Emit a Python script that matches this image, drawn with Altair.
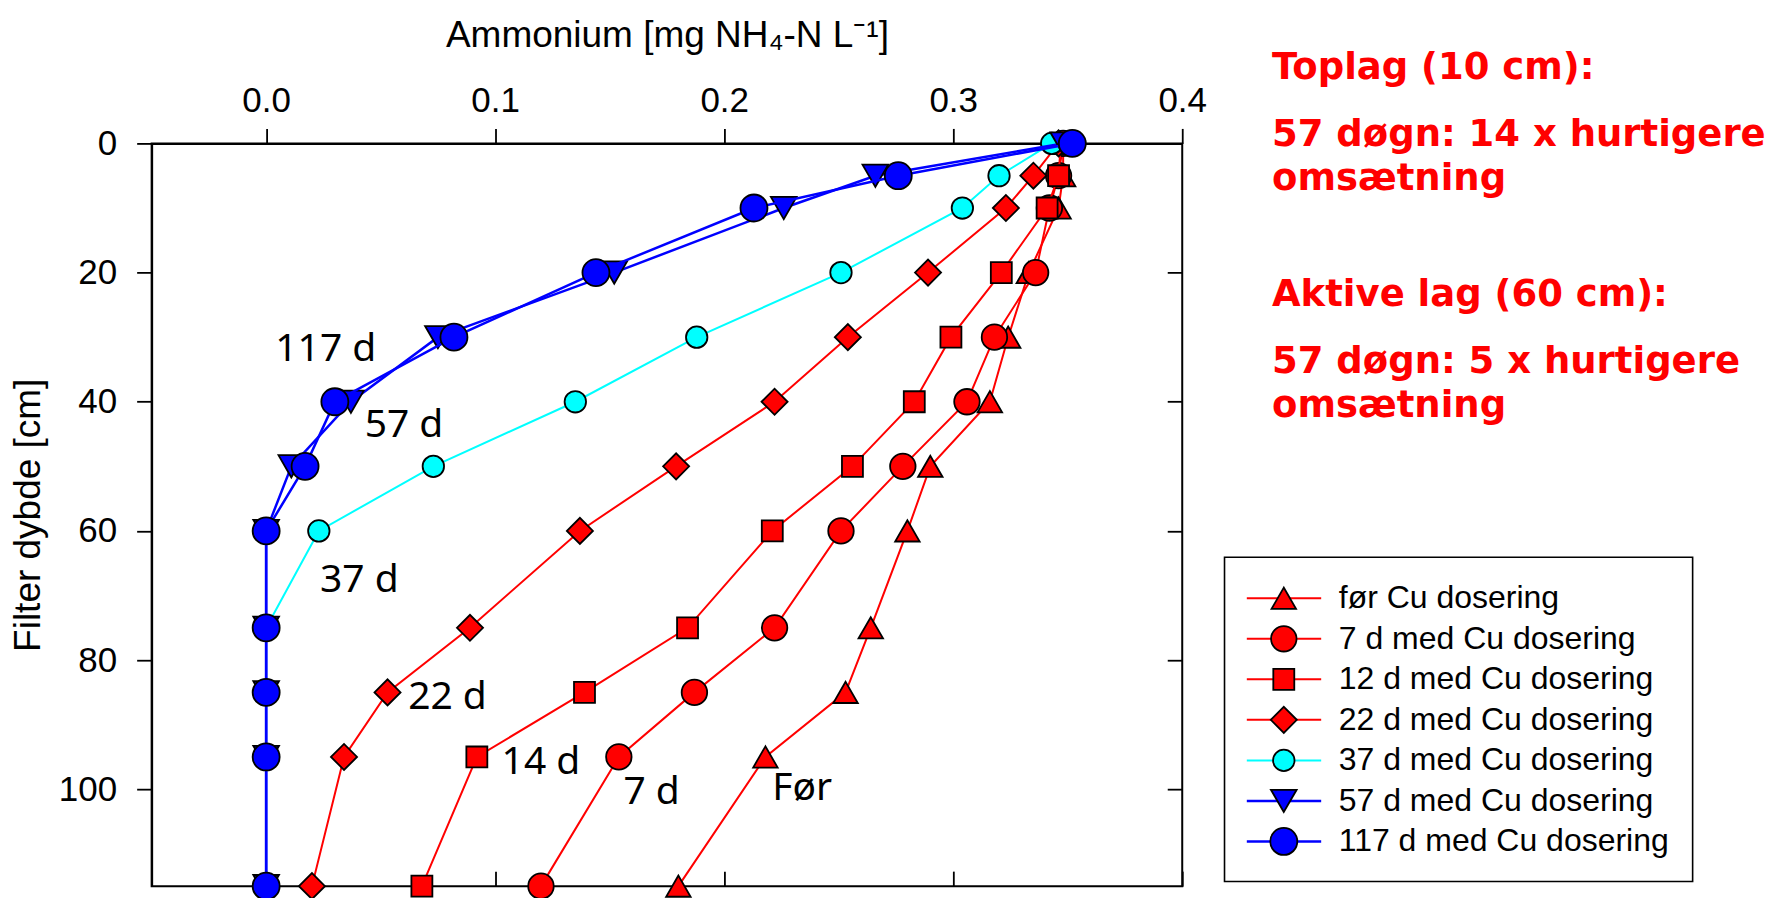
import altair as alt
import pandas as pd

# ---------------- data ----------------
depth_cm = [0, 5, 10, 20, 30, 40, 50, 60, 75, 85, 95, 115]

foer = [0.348, 0.348, 0.346, 0.333, 0.324, 0.316, 0.290, 0.280, 0.264, 0.253, 0.218, 0.180]
d7 = [0.348, 0.346, 0.342, 0.336, 0.318, 0.306, 0.278, 0.251, 0.222, 0.187, 0.154, 0.120]
d12 = [0.347, 0.346, 0.341, 0.321, 0.299, 0.283, 0.256, 0.221, 0.184, 0.139, 0.092, 0.068]
d22 = [0.346, 0.335, 0.323, 0.289, 0.254, 0.222, 0.179, 0.137, 0.089, 0.053, 0.034, 0.020]
d37 = [0.343, 0.320, 0.304, 0.251, 0.188, 0.135, 0.073, 0.023, 0.0, 0.0, 0.0, 0.0]
d57 = [0.348, 0.266, 0.226, 0.152, 0.075, 0.037, 0.011, 0.0, 0.0, 0.0, 0.0, 0.0]
d117 = [0.352, 0.276, 0.213, 0.144, 0.082, 0.030, 0.017, 0.0, 0.0, 0.0, 0.0, 0.0]

series_labels = [
    "før Cu dosering",
    "7 d med Cu dosering",
    "12 d med Cu dosering",
    "22 d med Cu dosering",
    "37 d med Cu dosering",
    "57 d med Cu dosering",
    "117 d med Cu dosering",
]
series_values = [foer, d7, d12, d22, d37, d57, d117]

x_ticks = [0.0, 0.1, 0.2, 0.3, 0.4]
y_ticks = [0, 20, 40, 60, 80, 100]

curve_labels = ["117 d", "57 d", "37 d", "22 d", "14 d", "7 d", "Før"]
curve_label_x = [0.0040, 0.0430, 0.0235, 0.062, 0.1028, 0.1560, 0.2210]
curve_label_y = [33.7, 45.4, 69.4, 87.5, 97.6, 102.3, 101.6]

notes = [
    "Toplag (10 cm):",
    "57 døgn: 14 x hurtigere",
    "omsætning",
    "Aktive lag (60 cm):",
    "57 døgn: 5 x hurtigere",
    "omsætning",
]

# ---------------- styles ----------------
series_colors = ["#ff0000", "#ff0000", "#ff0000", "#ff0000", "#00ffff", "#0000ff", "#0000ff"]
series_shapes = ["triangle-up", "circle", "square", "diamond", "circle", "triangle-down", "circle"]
series_sizes = [600, 650, 440, 680, 460, 660, 730]
series_lw = [2, 2, 2, 2, 2, 2.5, 2.5]

W, H = 1031, 743
FONT = "Liberation Sans"

xs = alt.Scale(domain=[-0.05, 0.4], nice=False, zero=False)
ys = alt.Scale(domain=[0, 115], reverse=True, nice=False, zero=False)

top_axis = alt.Axis(
    orient="top", values=x_ticks, format=".1f", tickSize=15, labelPadding=10,
    labelFlush=False, labelOverlap=False, grid=False,
    title="Ammonium [mg NH₄-N L⁻¹]", titleX=W / 2, titleY=-96.6,
    titleBaseline="alphabetic", titleAlign="center", titleAngle=0,
)
left_axis = alt.Axis(
    orient="left", values=y_ticks, tickSize=15, labelPadding=20,
    labelFlush=False, labelOverlap=False, grid=False,
    title="Filter dybde [cm]", titleX=-112, titleY=H / 2,
    titleBaseline="alphabetic", titleAlign="center", titleAngle=270,
)
bottom_axis = alt.Axis(
    orient="bottom", values=x_ticks, tickSize=15, offset=-15, labels=False,
    domain=False, grid=False, title="",
)
right_axis = alt.Axis(
    orient="right", values=y_ticks, tickSize=15, offset=-15, labels=False,
    domain=False, grid=False, title="",
)

data_layers = []
for i, (lab, vals) in enumerate(zip(series_labels, series_values)):
    df = pd.DataFrame({"series": lab, "depth": depth_cm, "value": vals})
    if i == 0:
        xa, ya = top_axis, left_axis
    elif i == 1:
        xa, ya = bottom_axis, right_axis
    else:
        xa, ya = None, None
    line = alt.Chart(df).mark_line(color=series_colors[i], strokeWidth=series_lw[i]).encode(
        x=alt.X("value:Q", scale=xs, axis=xa),
        y=alt.Y("depth:Q", scale=ys, axis=ya),
        order=alt.Order("depth:Q"),
    )
    pts = alt.Chart(df).mark_point(
        shape=series_shapes[i], filled=True, fill=series_colors[i], stroke="black",
        strokeWidth=1.8, size=series_sizes[i], opacity=1,
    ).encode(
        x=alt.X("value:Q", scale=xs, axis=None),
        y=alt.Y("depth:Q", scale=ys, axis=None),
    )
    data_layers += [line, pts]

ann_df = pd.DataFrame({"label": curve_labels, "value": curve_label_x, "depth": curve_label_y})
ann = alt.Chart(ann_df).mark_text(
    align="left", baseline="alphabetic", font="Noto Sans", fontSize=39, color="black"
).encode(
    x=alt.X("value:Q", scale=xs, axis=None),
    y=alt.Y("depth:Q", scale=ys, axis=None),
    text="label:N",
)
data_layers.append(ann)

data_group = alt.layer(*data_layers).resolve_axis(x="independent", y="independent")

# ---------------- side panel (pixel scales relative to the plot origin) ----------------
px = alt.Scale(domain=[0, W], nice=False, zero=False)
py = alt.Scale(domain=[0, H], reverse=True, nice=False, zero=False)

notes_df = pd.DataFrame({
    "t": notes,
    "x": [1120.8] * len(notes),
    "y": [-64.3, 2.7, 46.7, 162.7, 229.7, 273.7],
})
notes_layer = alt.Chart(notes_df).mark_text(
    align="left", baseline="alphabetic", font="DejaVu Sans", fontWeight="bold",
    fontSize=37, color="#ff0000",
).encode(
    x=alt.X("x:Q", scale=px, axis=None),
    y=alt.Y("y:Q", scale=py, axis=None),
    text="t:N",
)

box_df = pd.DataFrame({"x0": [1073.3], "x1": [1541.6], "y0": [414.0], "y1": [738.4]})
box = alt.Chart(box_df).mark_rect(fill="white", stroke="black", strokeWidth=1.6).encode(
    x=alt.X("x0:Q", scale=px, axis=None), x2="x1:Q",
    y=alt.Y("y0:Q", scale=py, axis=None), y2="y1:Q",
)

side_layers = [notes_layer, box]
for i, lab in enumerate(series_labels):
    ry = 455.0 + 40.55 * i
    row = pd.DataFrame({"lx0": [1095.6], "lx1": [1170.0], "sx": [1132.6], "tx": [1187.6],
                        "ry": [ry], "label": [lab]})
    rule = alt.Chart(row).mark_rule(color=series_colors[i], strokeWidth=series_lw[i]).encode(
        x=alt.X("lx0:Q", scale=px, axis=None), x2="lx1:Q",
        y=alt.Y("ry:Q", scale=py, axis=None),
    )
    sym = alt.Chart(row).mark_point(
        shape=series_shapes[i], filled=True, fill=series_colors[i], stroke="black",
        strokeWidth=1.8, size=series_sizes[i], opacity=1,
    ).encode(
        x=alt.X("sx:Q", scale=px, axis=None),
        y=alt.Y("ry:Q", scale=py, axis=None),
    )
    txt = alt.Chart(row).mark_text(
        align="left", baseline="middle", font=FONT, fontSize=32, color="black"
    ).encode(
        x=alt.X("tx:Q", scale=px, axis=None),
        y=alt.Y("ry:Q", scale=py, axis=None),
        text="label:N",
    )
    side_layers += [rule, sym, txt]

side_group = alt.layer(*side_layers)

chart = (
    alt.layer(data_group, side_group)
    .resolve_scale(x="independent", y="independent")
    .properties(
        width=W, height=H,
        autosize=alt.AutoSizeParams(type="none"),
        padding={"left": 143.7, "top": 135.3, "right": 587, "bottom": 12},
        background="white",
    )
    .configure_view(stroke="black", strokeWidth=2)
    .configure_axis(
        domainColor="black", domainWidth=2, tickColor="black", tickWidth=1.8,
        labelColor="black", labelFont=FONT, labelFontSize=35,
        titleColor="black", titleFont=FONT, titleFontSize=37, titleFontWeight="normal",
        grid=False,
    )
)

chart.save("out.html", embed_options={"renderer": "svg", "actions": False})
